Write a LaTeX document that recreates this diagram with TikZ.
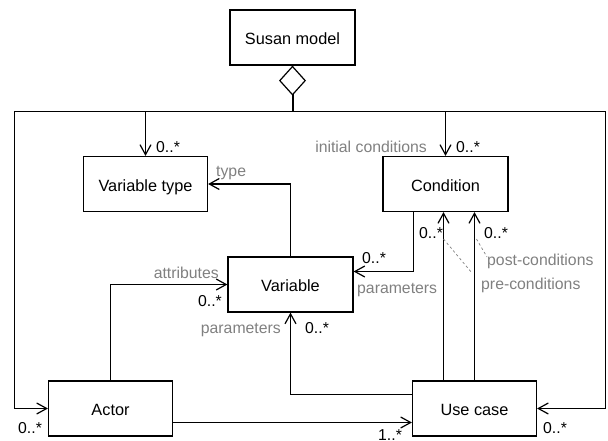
\documentclass[tikz,border=0pt]{standalone}
\usepackage{fontspec}
\setmainfont{Liberation Sans}
\usetikzlibrary{arrows.meta}
\definecolor{labelgray}{RGB}{128,128,128}

\begin{document}
\begin{tikzpicture}[x=1pt,y=-1pt,
  cls/.style={draw, line width=1.2pt, minimum width=124pt, minimum height=55pt,
    inner sep=0pt, font=\fontsize{16.3}{18}\selectfont, text height=14pt, text depth=0pt},
  assoc/.style={draw, line width=1.2pt,
    -{Straight Barb[length=10pt,width=11pt,line width=1.2pt]}},
  link/.style={draw, line width=1.2pt},
  mult/.style={inner sep=0pt, font=\fontsize{15.8}{18}\selectfont, text height=11pt, text depth=0pt},
  role/.style={mult, text=labelgray},
  note/.style={draw=labelgray, line width=0.7pt, dash pattern=on 2.5pt off 2.5pt}
]
\path[use as bounding box] (0,0) rectangle (608,441);

% classes
\node[cls, minimum width=125pt] (susan) at (292.5,37.5) {Susan model};
\node[cls] (vtype) at (145.5,184) {Variable type};
\node[cls, minimum width=125pt] (cond) at (445.5,184) {Condition};
\node[cls, minimum width=125pt] (var) at (290.5,284.5) {Variable};
\node[cls] (actor) at (110.5,408.5) {Actor};
\node[cls] (uc) at (474.5,408.5) {Use case};

% aggregation bus
\coordinate (hub) at (292.5,111.5);
\coordinate (busL) at (14.5,111.5);
\coordinate (busR) at (605.5,111.5);
\draw[line width=2pt, {Diamond[open,length=30pt,width=27pt,line width=1.2pt]}-] (susan.south) -- (hub);
\draw[link] (busL) -- (busR);
\draw[assoc] (vtype.north |- hub) -- (vtype.north);
\draw[assoc] (cond.north |- hub) -- (cond.north);
\draw[assoc] (busL) |- (actor.west);
\draw[assoc] (busR) |- (uc.east);

% associations
\draw[assoc] (var.north) |- (vtype.east);
\draw[assoc] ([xshift=-32pt]cond.south) |- ([yshift=13pt]var.east);
\draw[assoc] ([xshift=-31pt]uc.north) -- ([xshift=-31pt]uc.north |- cond.south);
\draw[assoc] (uc.north) -- (uc.north |- cond.south);
\draw[assoc] ([yshift=14pt]uc.west) -| (var.south);
\draw[assoc] (actor.north) |- (var.west);
\draw[assoc] ([yshift=-14pt]actor.east) -- ([yshift=-14pt]uc.west);

% multiplicities and role names
\node[mult, anchor=west] (m1) at (156,147) {0..*};
\node[role, anchor=east] (r1) at (427,147) {initial conditions};
\node[mult, anchor=west] (m2) at (456,147) {0..*};
\node[role, anchor=west] (r2) at (216,171) {type};
\node[mult, anchor=west] (m3) at (362,258) {0..*};
\node[role, anchor=west] (r3) at (357,288) {parameters};
\node[mult, anchor=west] (m4) at (419,233) {0..*};
\node[mult, anchor=west] (m5) at (484,233) {0..*};
\node[role, anchor=west] (post) at (487,260) {post-conditions};
\node[role, anchor=west] (pre) at (481,284) {pre-conditions};
\node[role, anchor=east] (r4) at (219,273) {attributes};
\node[mult, anchor=east] (m6) at (222,301) {0..*};
\node[role, anchor=east] (r5) at (281,328) {parameters};
\node[mult, anchor=west] (m7) at (305,328) {0..*};
\node[mult, anchor=west] (m8) at (18,428) {0..*};
\node[mult, anchor=west] (m9) at (543,428) {0..*};
\node[mult, anchor=west] (m10) at (378,435) {1..*};

% role name leaders
\coordinate (preA) at (443.5,239);
\coordinate (preB) at (472,273);
\coordinate (postA) at (476.5,239);
\coordinate (postB) at (487,257);
\draw[note] (preA) -- (preB);
\draw[note] (postA) -- (postB);
\end{tikzpicture}
\end{document}
